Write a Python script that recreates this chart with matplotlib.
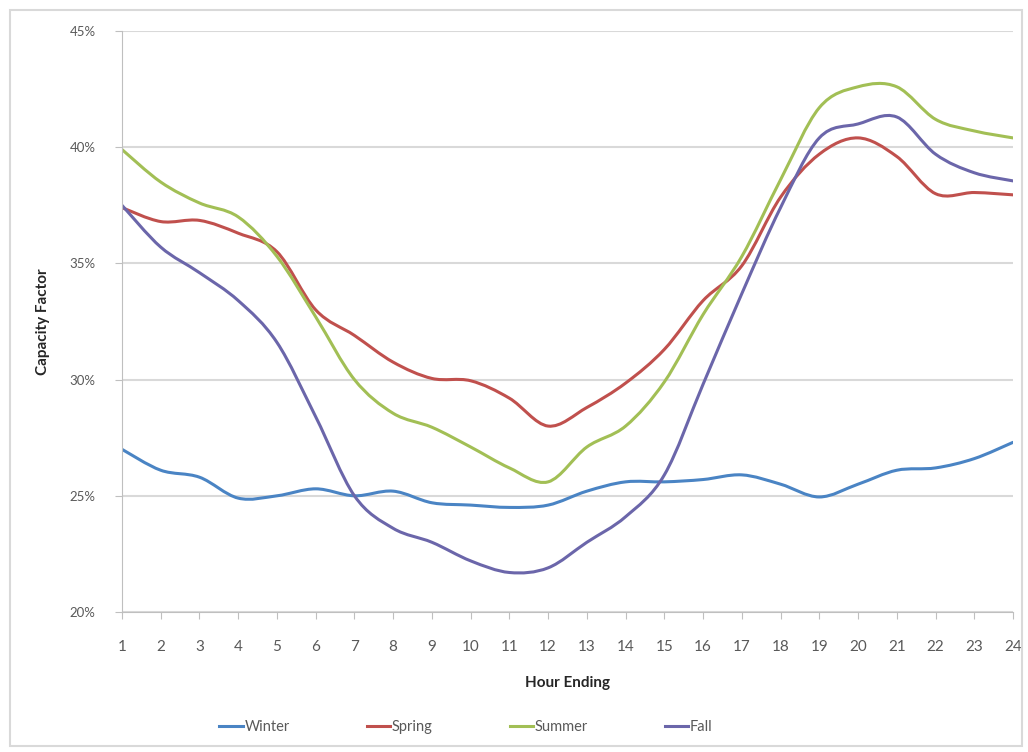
import matplotlib.pyplot as plt
import numpy as np
from matplotlib.path import Path
from matplotlib.patches import PathPatch, Rectangle
from matplotlib.lines import Line2D
from matplotlib.ticker import FuncFormatter

plt.rcParams['font.family'] = ['Lato', 'DejaVu Sans']

# hourly capacity factor (%) by season
hours = list(range(1, 25))
winter = [27.0, 26.1, 25.8, 24.9, 25.0, 25.3, 25.0, 25.2, 24.7, 24.6, 24.5, 24.6,
          25.2, 25.6, 25.6, 25.7, 25.9, 25.5, 24.95, 25.5, 26.1, 26.2, 26.6, 27.3]
spring = [37.4, 36.8, 36.85, 36.3, 35.5, 33.0, 31.9, 30.75, 30.05, 29.95, 29.2, 28.0,
          28.8, 29.85, 31.3, 33.4, 34.9, 37.85, 39.7, 40.4, 39.6, 38.0, 38.05, 37.95]
summer = [39.9, 38.5, 37.6, 37.0, 35.3, 32.7, 30.0, 28.55, 27.95, 27.1, 26.2, 25.6,
          27.1, 28.0, 29.9, 32.8, 35.3, 38.6, 41.7, 42.6, 42.6, 41.2, 40.7, 40.4]
fall = [37.5, 35.7, 34.6, 33.4, 31.6, 28.4, 25.0, 23.6, 23.0, 22.2, 21.7, 21.9,
        23.0, 24.1, 25.9, 29.8, 33.7, 37.4, 40.4, 41.0, 41.3, 39.7, 38.9, 38.55]

series = [("Winter", winter, "#4A84C4"),
          ("Spring", spring, "#C0504D"),
          ("Summer", summer, "#A2BF55"),
          ("Fall", fall, "#6B66AA")]


def smooth_path(x, y):
    # Excel-style smoothed line: Catmull-Rom segments drawn as cubic Beziers
    pts = np.column_stack([x, y]).astype(float)
    ext = np.vstack([pts[0], pts, pts[-1]])
    verts = [tuple(pts[0])]
    codes = [Path.MOVETO]
    for i in range(1, len(ext) - 2):
        p0, p1, p2, p3 = ext[i - 1], ext[i], ext[i + 1], ext[i + 2]
        c1 = p1 + (p2 - p0) / 6.0
        c2 = p2 - (p3 - p1) / 6.0
        verts += [tuple(c1), tuple(c2), tuple(p2)]
        codes += [Path.CURVE4] * 3
    return Path(verts, codes)


fig = plt.figure(figsize=(10.28, 7.52), dpi=100)
ax = fig.add_axes([122 / 1028, 1 - 612 / 752, (1013 - 122) / 1028, (612 - 31) / 752])

# chart area frame
fig.patches.append(Rectangle((10 / 1028, 6 / 752), 1012 / 1028, 736 / 752,
                             transform=fig.transFigure, fill=False,
                             edgecolor="#D9D9D9", linewidth=1.5))

for name, vals, col in series:
    ax.add_patch(PathPatch(smooth_path(hours, vals), facecolor="none",
                           edgecolor=col, linewidth=2.2, capstyle="round"))

ax.set_xlim(1, 24)
ax.set_ylim(20, 45)
ax.set_xticks(hours)
ax.set_yticks([20, 25, 30, 35, 40, 45])
ax.yaxis.set_major_formatter(FuncFormatter(lambda v, p: "%d%%" % v))
ax.grid(axis="y", color="#D9D9D9", linewidth=1.5)
ax.set_axisbelow(True)

for s in ["top", "right"]:
    ax.spines[s].set_visible(False)
ax.spines["left"].set_color("#BFBFBF")
ax.spines["bottom"].set_color("#BFBFBF")
ax.tick_params(axis="x", colors="#BFBFBF", length=5, labelcolor="#595959",
               labelsize=11, pad=15)
ax.tick_params(axis="y", colors="#BFBFBF", length=5, labelcolor="#595959",
               labelsize=9.5, pad=14)

ax.set_xlabel("Hour Ending", fontsize=11, fontweight="bold", color="#262626", labelpad=16)
ax.set_ylabel("Capacity Factor", fontsize=11, fontweight="bold", color="#262626", labelpad=14)

handles = [Line2D([], [], color=c, linewidth=2.2) for _, _, c in series]
labels = [n for n, _, _ in series]
fig.legend(handles, labels, loc="center", bbox_to_anchor=(466 / 1028, 1 - 727 / 752),
           ncol=4, frameon=False, fontsize=10.5, handlelength=1.6, handletextpad=0.1,
           columnspacing=5.3, labelcolor="#595959")

fig.savefig("out.png", dpi=100)
